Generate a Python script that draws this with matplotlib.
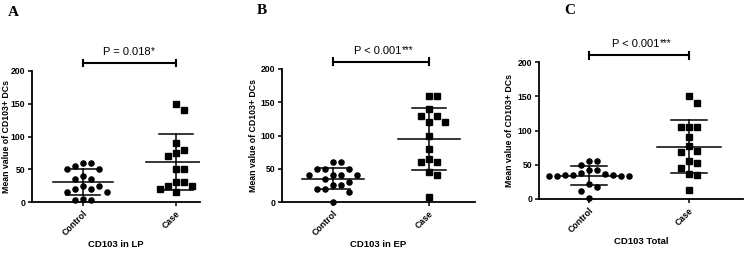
import numpy as np
import matplotlib
matplotlib.use("Agg")
import matplotlib.pyplot as plt

plt.rcParams['font.family'] = ['Liberation Sans', 'DejaVu Sans']

groups = ['Control', 'Case']
panel_letters = ['A', 'B', 'C']
xlabels = ['CD103 in LP', 'CD103 in EP', 'CD103 Total']
p_texts = ['P = 0.018', 'P < 0.001', 'P < 0.001']
p_stars = ['*', '***', '***']

lp_control = [60, 60, 55, 50, 50, 40, 35, 35, 25, 25, 20, 20, 15, 15, 5, 3, 3]
lp_case = [150, 140, 90, 80, 75, 70, 50, 50, 30, 30, 25, 25, 20, 15]
ep_control = [60, 60, 50, 50, 50, 40, 40, 40, 40, 35, 30, 25, 25, 20, 20, 15, 0]
ep_case = [160, 160, 140, 130, 130, 120, 120, 100, 80, 65, 60, 60, 45, 40, 8]
tot_control = [55, 55, 50, 43, 43, 38, 36, 35, 35, 35, 33, 33, 33, 33, 22, 17, 12, 2]
tot_case = [150, 140, 105, 105, 105, 90, 77, 70, 68, 55, 52, 45, 37, 35, 13]

panels = [(lp_control, lp_case), (ep_control, ep_case), (tot_control, tot_case)]

W, H = 745, 256
# axes boxes in pixels: left, right, top(y=200), bottom(y=0), xlim
boxes = [
    (32, 200, 71, 202, (-0.55, 1.26)),
    (282, 475, 69, 202, (-0.53, 1.48)),
    (539, 743, 62, 199, (-0.50, 1.54)),
]
ylabel_x = [7, 253, 509]
letter_pos = [(13, 12), (262, 10), (570, 10)]


def swarm(vals, step, ytol):
    # simple beeswarm: spread points with similar values sideways
    order = np.argsort(vals)[::-1]
    placed = []
    xs = np.zeros(len(vals))
    for i in order:
        v = vals[i]
        k = 0
        while True:
            cands = [0.0] if k == 0 else [k * step, -k * step]
            ok = None
            for c in cands:
                if all(abs(c - px) >= step * 0.95 or abs(v - pv) >= ytol for px, pv in placed):
                    ok = c
                    break
            if ok is not None:
                xs[i] = ok
                placed.append((ok, v))
                break
            k += 1
    return xs


fig = plt.figure(figsize=(W / 100, H / 100), dpi=100)
star_jobs = []

for n, (ctrl, case) in enumerate(panels):
    l, r, t, b, xl = boxes[n]
    ax = fig.add_axes([l / W, 1 - b / H, (r - l) / W, (b - t) / H])
    ppx = (b - t) / 200.0  # pixels per unit
    upx = (xl[1] - xl[0]) / (r - l)  # x units per pixel
    for g, (vals, mk) in enumerate([(ctrl, 'o'), (case, 's')]):
        vals = np.array(vals, dtype=float)
        xs = g + swarm(vals, 8 * upx, 7 / ppx)
        ax.plot(xs, vals, linestyle='none', marker=mk, ms=3.7, color='black', clip_on=False)
        m = vals.mean()
        sd = vals.std(ddof=1)
        ax.plot([g - 0.32, g + 0.32], [m, m], color='black', lw=1.1)
        ax.plot([g - 0.18, g + 0.18], [m + sd, m + sd], color='black', lw=1.1)
        ax.plot([g - 0.18, g + 0.18], [m - sd, m - sd], color='black', lw=1.1)
        ax.plot([g, g], [m - sd, m + sd], color='black', lw=1.1)

    ax.set_xlim(*xl)
    ax.set_ylim(0, 200)
    ax.set_yticks([0, 50, 100, 150, 200])
    ax.set_xticks([0, 1])
    ax.set_xticklabels(groups, rotation=45, ha='right', rotation_mode='anchor',
                       fontsize=6.3, fontweight='bold')
    for lab in ax.get_yticklabels():
        lab.set_fontsize(6.2)
        lab.set_fontweight('bold')
    for s in ['top', 'right']:
        ax.spines[s].set_visible(False)
    for s in ['left', 'bottom']:
        ax.spines[s].set_linewidth(1.3)
    ax.tick_params(width=1.1, length=3, pad=2)
    ax.set_ylabel('Mean value of CD103+ DCs', fontsize=6.3, fontweight='bold', va='center')
    ax.yaxis.set_label_coords((ylabel_x[n] - l) / (r - l), 0.5)
    ax.set_xlabel(xlabels[n], fontsize=6.8, fontweight='bold', labelpad=2)

    # significance bracket
    ybr = {0: 212, 1: 211, 2: 210}[n]
    ax.plot([0, 1], [ybr, ybr], color='black', lw=1.5, clip_on=False)
    ax.plot([0, 0], [ybr - 5, ybr + 5], color='black', lw=1.5, clip_on=False)
    ax.plot([1, 1], [ybr - 5, ybr + 5], color='black', lw=1.5, clip_on=False)
    txt = ax.text(0.47, ybr + 9, p_texts[n], ha='center', va='bottom', fontsize=8)
    star_jobs.append((txt, p_stars[n]))

    lx, ly = letter_pos[n]
    fig.text(lx / W, 1 - ly / H, panel_letters[n], ha='center', va='center',
             fontsize=11, fontweight='bold', family='Liberation Serif')

# small raised stars right after the p-value text
fig.canvas.draw()
rend = fig.canvas.get_renderer()
for txt, st in star_jobs:
    bb = txt.get_window_extent(rend)
    fig.text((bb.x1 + 0.5) / W, (bb.y1 + 1) / H, st, ha='left', va='top', fontsize=7)

fig.savefig('out.png', dpi=100)
